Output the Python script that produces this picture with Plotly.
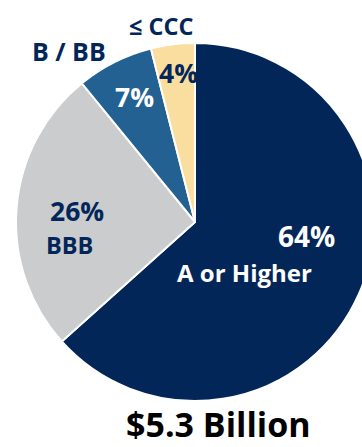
import plotly.graph_objects as go

categories = ["A or Higher", "BBB", "B / BB", "≤ CCC"]
shares = [64, 26, 7, 4]
colors = ["#032659", "#CBCCCE", "#236192", "#F9DE9F"]
total_label = "$5.3 Billion"

W, H = 390, 447
FONT = "Open Sans"

fig = go.Figure(go.Pie(
    labels=categories, values=shares, sort=False, direction="clockwise", rotation=0,
    marker=dict(colors=colors, line=dict(color="white", width=2)),
    textinfo="none", hoverinfo="skip", showlegend=False,
    domain=dict(x=[16 / W, 374 / W], y=[46 / H, 404 / H]),
))

def ann(text, px, py, size, color):
    fig.add_annotation(text=f"<b>{text}</b>", x=px / W, y=1 - py / H, xref="paper", yref="paper",
                       showarrow=False, xanchor="center", yanchor="middle",
                       font=dict(family=FONT, size=size, color=color))

navy = "#032659"
ann(f"{shares[0]}%", 306, 236, 28, "white")
ann(categories[0], 244, 272, 24, "white")
ann(f"{shares[1]}%", 77, 211, 26.5, navy)
ann(categories[1], 69, 245, 23.5, navy)
ann(f"{shares[2]}%", 134, 97, 26.5, "white")
ann(f"{shares[3]}%", 178, 73, 26.5, navy)
ann(categories[2], 69, 51, 25, navy)
ann(categories[3], 161, 26, 23.5, navy)
ann(total_label, 218, 424, 34, "black")

fig.update_layout(width=W, height=H, autosize=False, margin=dict(l=0, r=0, t=0, b=0),
                  paper_bgcolor="white", plot_bgcolor="white")
fig.write_html("out.html")
